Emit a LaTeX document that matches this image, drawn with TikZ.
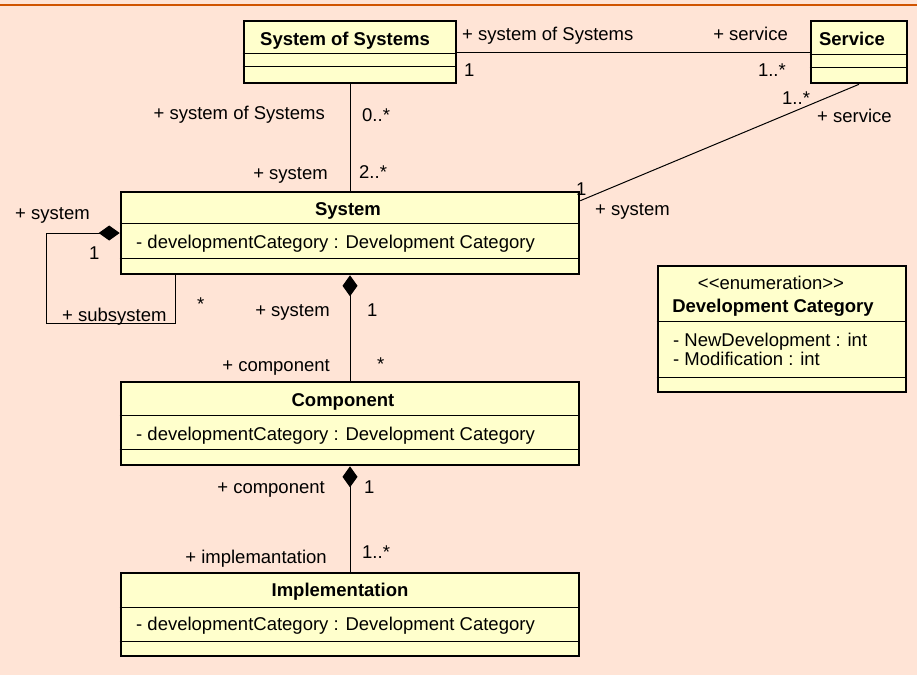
\documentclass[tikz,border=0pt]{standalone}
\usepackage{fontspec}
\setmainfont{Liberation Sans}
\usetikzlibrary{arrows.meta}

\definecolor{bgpeach}{RGB}{255,228,214}
\definecolor{classfill}{RGB}{255,255,204}
\definecolor{topline}{RGB}{208,84,0}

\begin{document}
\begin{tikzpicture}[x=1pt,y=-1pt,
        every node/.style={font=\fontsize{18.5}{22}\selectfont, inner sep=0pt},
        classbox/.style={rectangle, draw, line width=2.6pt, fill=classfill},
        divider/.style={line width=1pt},
        title/.style={anchor=base, font=\fontsize{18.5}{22}\selectfont\bfseries},
        attr/.style={anchor=base west},
        assoc/.style={line width=1pt},
        comp/.style={line width=1pt, {Diamond[length=21pt,width=15pt]}-}]
        \useasboundingbox (0,0) rectangle (917,675);
        \fill[bgpeach] (0,0) rectangle (917,675);
        \draw[topline, line width=2.5pt] (0,5) -- (917,5);

        % classes
        \node[classbox, minimum width=212pt, minimum height=62pt] (sos) at (350,52) {};
        \draw[divider] (sos.west |- 0,53) -- (sos.east |- 0,53);
        \draw[divider] (sos.west |- 0,66) -- (sos.east |- 0,66);
        \node[title] (sosName) at (345,45) {System of Systems};

        \node[classbox, minimum width=96pt, minimum height=62pt] (service) at (859,52) {};
        \draw[divider] (service.west |- 0,54) -- (service.east |- 0,54);
        \draw[divider] (service.west |- 0,67) -- (service.east |- 0,67);
        \node[title] (serviceName) at (852,45) {Service};

        \node[classbox, minimum width=458pt, minimum height=82pt] (system) at (350,233) {};
        \draw[divider] (system.west |- 0,223) -- (system.east |- 0,223);
        \draw[divider] (system.west |- 0,258) -- (system.east |- 0,258);
        \node[title] (systemName) at (348,215) {System};
        \node[attr] (systemAttr) at (136,248) {- developmentCategory : Development Category};

        \node[classbox, minimum width=458pt, minimum height=83pt] (component) at (350,423.5) {};
        \draw[divider] (component.west |- 0,415) -- (component.east |- 0,415);
        \draw[divider] (component.west |- 0,449) -- (component.east |- 0,449);
        \node[title] (componentName) at (343,406) {Component};
        \node[attr] (componentAttr) at (136,440) {- developmentCategory : Development Category};

        \node[classbox, minimum width=458pt, minimum height=83pt] (implementation) at (350,614.5) {};
        \draw[divider] (implementation.west |- 0,607) -- (implementation.east |- 0,607);
        \draw[divider] (implementation.west |- 0,641) -- (implementation.east |- 0,641);
        \node[title] (implementationName) at (340,596) {Implementation};
        \node[attr] (implementationAttr) at (136,630) {- developmentCategory : Development Category};

        \node[classbox, minimum width=248pt, minimum height=126pt] (devCat) at (782,329) {};
        \draw[divider] (devCat.west |- 0,321) -- (devCat.east |- 0,321);
        \draw[divider] (devCat.west |- 0,377) -- (devCat.east |- 0,377);
        \node[anchor=base] (devCatStereo) at (771,289) {<\kern0pt<enumeration>\kern0pt>};
        \node[title] (devCatName) at (773,312) {Development Category};
        \node[attr] (devCatNew) at (673,346) {- NewDevelopment : int};
        \node[attr] (devCatMod) at (673,365) {- Modification : int};

        % associations
        \draw[assoc] (sos) -- (system);
        \draw[assoc] (sos.east) -- (service.west);
        \draw[assoc] (service.south) -- ([yshift=-10pt]system.north east);
        \draw[comp] (system.south) -- (component.north);
        \draw[comp] (component.south) -- (implementation.north);
        \draw[comp] (system.west) -- ++(-73,0) |- ++(129,90) -- ([xshift=56pt]system.south west);

        % roles and multiplicities
        \node[anchor=base east] (sosRoleA) at (325,119) {+ system of Systems};
        \node[anchor=base west] (sosMultA) at (362,121) {0..*};
        \node[anchor=base east] (sysRoleA) at (328,179) {+ system};
        \node[anchor=base west] (sysMultA) at (359,178) {2..*};
        \node[anchor=base west] (sosRoleB) at (462,40) {+ system of Systems};
        \node[anchor=base west] (sosMultB) at (464,76) {1};
        \node[anchor=base east] (srvRoleB) at (788,40) {+ service};
        \node[anchor=base east] (srvMultB) at (786,76) {1..*};
        \node[anchor=base west] (srvMultC) at (782,104) {1..*};
        \node[anchor=base west] (srvRoleC) at (817,122) {+ service};
        \node[anchor=base west] (sysMultC) at (576,195) {1};
        \node[anchor=base west] (sysRoleC) at (595,215) {+ system};
        \node[anchor=base west] (sysRoleD) at (15,219) {+ system};
        \node[anchor=base west] (sysMultD) at (89,259) {1};
        \node[anchor=base west] (subRole) at (62,321) {+ subsystem};
        \node[anchor=base west] (subMult) at (197,310) {*};
        \node[anchor=base east] (sysRoleE) at (330,316) {+ system};
        \node[anchor=base west] (sysMultE) at (367,316) {1};
        \node[anchor=base east] (cmpRoleE) at (330,371) {+ component};
        \node[anchor=base west] (cmpMultE) at (377,370) {*};
        \node[anchor=base east] (cmpRoleF) at (325,493) {+ component};
        \node[anchor=base west] (cmpMultF) at (364,493) {1};
        \node[anchor=base east] (impRoleF) at (327,563) {+ implemantation};
        \node[anchor=base west] (impMultF) at (362,558) {1..*};
\end{tikzpicture}
\end{document}
